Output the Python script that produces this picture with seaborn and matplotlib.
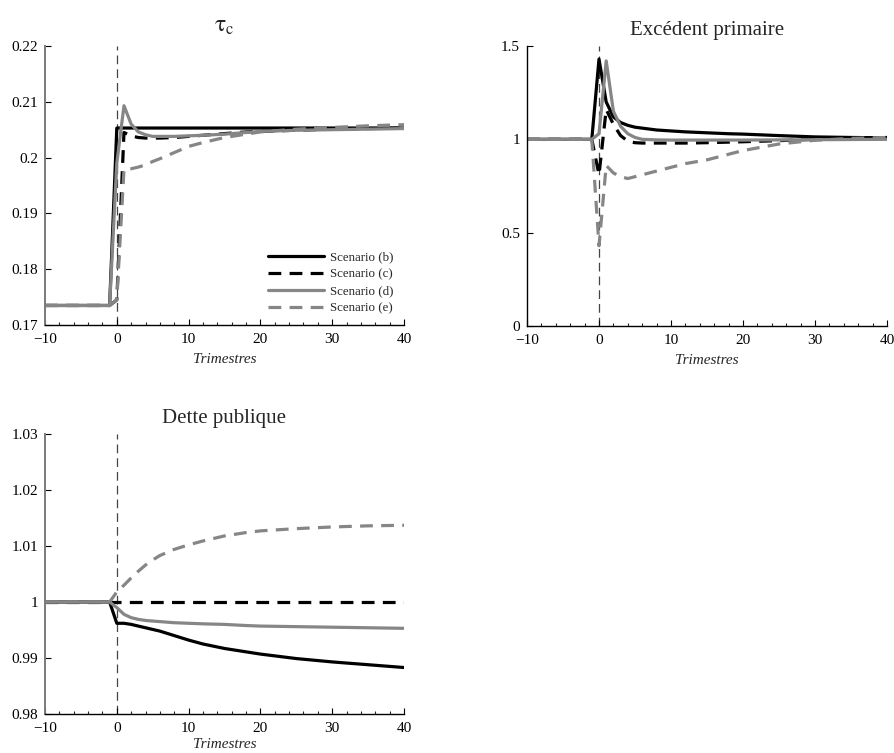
import numpy as np
import pandas as pd
import matplotlib
matplotlib.use("Agg")
import matplotlib.pyplot as plt
import seaborn as sns

sns.set_theme(style="ticks")
plt.rcParams['font.family'] = ['Liberation Serif', 'DejaVu Serif']
plt.rcParams['mathtext.fontset'] = 'stix'

# ---- data ----
x = [-10, -1, 0, 1, 2, 3, 4, 5, 6, 8, 10, 12, 15, 18, 20, 25, 30, 35, 40]
scenarios = ["Scenario (b)", "Scenario (c)", "Scenario (d)", "Scenario (e)"]

tau_b = [0.1735, 0.1735, 0.2053, 0.2053, 0.2053, 0.2053, 0.2053, 0.2053, 0.2053, 0.2053, 0.2053,
         0.2053, 0.2053, 0.2053, 0.2053, 0.2053, 0.2053, 0.2053, 0.2053]
tau_c = [0.1735, 0.1735, 0.1745, 0.2045, 0.2039, 0.2036, 0.2035, 0.2035, 0.2035, 0.2036, 0.2038,
         0.2040, 0.2043, 0.2046, 0.2047, 0.2049, 0.2051, 0.2052, 0.2053]
tau_d = [0.1735, 0.1735, 0.1990, 0.2093, 0.2060, 0.2046, 0.2041, 0.2038, 0.2038, 0.2038, 0.2039,
         0.2040, 0.2042, 0.2045, 0.2047, 0.2049, 0.2050, 0.2051, 0.2052]
tau_e = [0.1735, 0.1735, 0.1745, 0.1979, 0.1980, 0.1983, 0.1987, 0.1993, 0.1998, 0.2009, 0.2020,
         0.2027, 0.2036, 0.2042, 0.2046, 0.2051, 0.2054, 0.2057, 0.2059]

exc_b = [1.0, 1.0, 1.43, 1.20, 1.12, 1.09, 1.075, 1.065, 1.06, 1.05, 1.045, 1.04, 1.035, 1.03,
         1.028, 1.02, 1.013, 1.01, 1.008]
exc_c = [1.0, 1.0, 0.81, 1.16, 1.08, 1.02, 0.99, 0.982, 0.98, 0.98, 0.98, 0.98, 0.982, 0.985,
         0.987, 0.993, 1.0, 1.005, 1.01]
exc_d = [1.0, 1.0, 1.03, 1.42, 1.15, 1.07, 1.03, 1.01, 1.0, 0.997, 0.996, 0.996, 0.996, 0.996,
         0.996, 0.997, 0.998, 0.999, 1.0]
exc_e = [1.0, 1.0, 0.43, 0.86, 0.82, 0.80, 0.79, 0.80, 0.81, 0.83, 0.85, 0.87, 0.89, 0.92,
         0.94, 0.975, 0.995, 1.005, 1.01]

det_b = [1.0, 1.0, 0.9962, 0.9962, 0.9960, 0.9957, 0.9954, 0.9951, 0.9948, 0.9940, 0.9932,
         0.9925, 0.9917, 0.9911, 0.9907, 0.9899, 0.9893, 0.9888, 0.9883]
det_c = [1.0] * 19
det_d = [1.0, 1.0, 0.9990, 0.9978, 0.9972, 0.9969, 0.9967, 0.9966, 0.9965, 0.9963, 0.9962,
         0.9961, 0.9960, 0.9958, 0.9957, 0.9956, 0.9955, 0.9954, 0.9953]
det_e = [1.0, 1.0, 1.0018, 1.0030, 1.0043, 1.0055, 1.0066, 1.0075, 1.0083, 1.0094, 1.0102,
         1.0109, 1.0118, 1.0124, 1.0127, 1.0131, 1.0134, 1.0136, 1.0137]

panels = [
    (r"$\mathrm{\tau}_{\mathrm{c}}$", [tau_b, tau_c, tau_d, tau_e], (0.17, 0.22),
     [0.17, 0.18, 0.19, 0.20, 0.21, 0.22],
     ["0.17", "0.18", "0.19", "0.2", "0.21", "0.22"]),
    ("Excédent primaire", [exc_b, exc_c, exc_d, exc_e], (0.0, 1.5), [0, 0.5, 1, 1.5],
     ["0", "0.5", "1", "1.5"]),
    ("Dette publique", [det_b, det_c, det_d, det_e], (0.98, 1.03), [0.98, 0.99, 1.0, 1.01, 1.02, 1.03],
     ["0.98", "0.99", "1", "1.01", "1.02", "1.03"]),
]

palette = {"Scenario (b)": "#000000", "Scenario (c)": "#000000",
           "Scenario (d)": "#868686", "Scenario (e)": "#868686"}
dashes = {"Scenario (b)": "", "Scenario (c)": (4.0, 2.6),
          "Scenario (d)": "", "Scenario (e)": (4.0, 2.6)}

W, H = 894, 753
fig = plt.figure(figsize=(W / 100, H / 100), dpi=100)
rects = [(45, 46, 404, 325), (527, 46, 887, 326), (45, 434, 404, 714)]
spine_cols = ["#7a7a7a", "#000000", "#7a7a7a"]

for i, ((title, series, ylim, yticks, ylabels), (l, t, r, b)) in enumerate(zip(panels, rects)):
    ax = fig.add_axes([l / W, 1 - b / H, (r - l) / W, (b - t) / H])
    rows = []
    for name, vals in zip(scenarios, series):
        for xv, yv in zip(x, vals):
            rows.append({"x": xv, "y": yv, "scen": name})
    df = pd.DataFrame(rows)
    sns.lineplot(data=df, x="x", y="y", hue="scen", style="scen", palette=palette,
                 dashes=dashes, linewidth=2.3, ax=ax, legend=(i == 0), sort=False)
    ax.axvline(0, color="#444444", lw=0.9, ls=(0, (7, 4)), zorder=0)
    ax.set_xlim(-10, 40)
    ax.set_ylim(*ylim)
    ax.set_xticks([-10, 0, 10, 20, 30, 40])
    ax.set_xticklabels(["\u221210", "0", "10", "20", "30", "40"])
    ax.set_xticks(np.arange(-10, 41, 2), minor=True)
    ax.set_yticks(yticks)
    ax.set_yticklabels(ylabels)
    ax.tick_params(axis="both", which="major", direction="in", length=4, width=0.8,
                   labelsize=11, colors="black")
    ax.tick_params(axis="x", which="major", pad=6)
    ax.tick_params(axis="y", which="major", pad=5)
    ax.tick_params(axis="x", which="minor", direction="in", length=2, width=0.8)
    for s in ["top", "right"]:
        ax.spines[s].set_visible(False)
    ax.spines["bottom"].set_linewidth(1.0)
    ax.spines["bottom"].set_color("black")
    ax.spines["left"].set_color(spine_cols[i])
    ax.spines["left"].set_linewidth(1.4 if i != 1 else 1.0)
    ax.set_xlabel("Trimestres", fontstyle="italic", fontsize=11, labelpad=(2 if i == 2 else 5))
    ax.set_ylabel("")
    if i == 0:
        ax.set_title(title, fontsize=17, pad=10)
    else:
        ax.set_title(title, fontsize=15, pad=8)
    if i == 0:
        leg = ax.legend(loc="lower right", bbox_to_anchor=(1.0, 0.0), frameon=False,
                        fontsize=9.3, handlelength=4.3, labelspacing=0.4, handletextpad=0.5,
                        borderaxespad=0.4)
        for h in leg.get_lines():
            h.set_linewidth(2.3)

fig.savefig("out.png", dpi=100)
